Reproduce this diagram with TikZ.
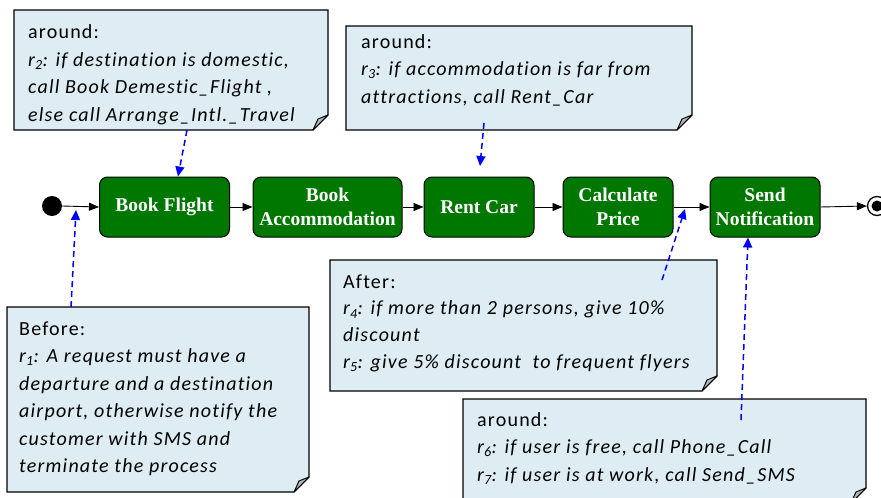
\documentclass[tikz,border=0pt]{standalone}
\usepackage{fontspec}
\setmainfont{Carlito}
\newfontfamily\actfont{Liberation Serif}
\newfontfamily\notefont[LetterSpace=6, Ligatures=NoCommon]{Carlito}
\usetikzlibrary{arrows.meta}

\definecolor{actgreen}{RGB}{0,119,0}
\definecolor{notefill}{RGB}{221,237,243}
\definecolor{foldgray}{RGB}{176,184,188}
\definecolor{linkblue}{RGB}{0,0,255}

% note with a folded bottom-right corner, drawn around an (empty) node
\newcommand\foldnote[1]{%
  \filldraw[fill=notefill, draw=black, line width=1.3pt, line join=miter]
    (#1.north west) -- (#1.north east) -- ([yshift=15pt]#1.south east)
    -- ([xshift=-15pt]#1.south east) -- (#1.south west) -- cycle;
  \filldraw[fill=foldgray, draw=black, line width=1pt, line join=round]
    ([yshift=15pt]#1.south east) -- ([xshift=-10pt,yshift=11pt]#1.south east)
    -- ([xshift=-15pt]#1.south east) -- cycle;
}

\tikzset{
  activity/.style={rectangle, rounded corners=8pt, draw=black, line width=1pt,
    fill=actgreen, text=white, align=center, minimum height=60pt, inner sep=2pt,
    font=\actfont\bfseries\fontsize{19.5}{24}\selectfont},
  flow/.style={-{Triangle[length=10pt,width=8pt]}, line width=0.9pt},
  rulelink/.style={linkblue, line width=1.5pt, dash pattern=on 6pt off 4pt,
    -{Triangle[length=10pt,width=9pt]}},
  notebox/.style={rectangle, inner sep=0pt, outer sep=0pt},
  notetext/.style={anchor=north west, inner sep=0pt, align=left,
    font=\notefont\fontsize{20}{27.5}\selectfont},
}

\begin{document}
\begin{tikzpicture}[x=1pt,y=-1pt]
\clip (0,0) rectangle (881,498);

% rule notes
\node[notebox, minimum width=314pt, minimum height=120pt] (n1) at (171,70) {};
\node[notebox, minimum width=346pt, minimum height=104pt] (n2) at (519,78) {};
\node[notebox, minimum width=302pt, minimum height=185pt] (n3) at (158,399.5) {};
\node[notebox, minimum width=387pt, minimum height=131pt] (n4) at (523.5,325.5) {};
\node[notebox, minimum width=403pt, minimum height=104pt] (n5) at (664.5,451) {};
\foldnote{n1}
\foldnote{n2}
\foldnote{n3}
\foldnote{n4}
\foldnote{n5}

\node[notetext] (t1) at (28,18.5) {\rule{0pt}{20pt}around:\\
  \textit{r\textsubscript{2}: if destination is domestic,}\\
  \textit{call Book Demestic\_Flight ,}\\
  \textit{else call Arrange\_Intl.\_Travel}};
\node[notetext] (t2) at (361,28) {\rule{0pt}{20pt}around:\\
  \textit{r\textsubscript{3}: if accommodation is far from}\\
  \textit{attractions, call Rent\_Car}};
\node[notetext] (t3) at (19,315) {\rule{0pt}{20pt}Before:\\
  \textit{r\textsubscript{1}: A request must have a}\\
  \textit{departure and a destination}\\
  \textit{airport, otherwise notify the}\\
  \textit{customer with SMS and}\\
  \textit{terminate the process}};
\node[notetext, font=\notefont\fontsize{20}{26.7}\selectfont] (t4) at (343,268) {\rule{0pt}{20pt}After:\\
  \textit{r\textsubscript{4}: if more than 2 persons, give 10\%}\\
  \textit{discount}\\
  \textit{r\textsubscript{5}: give 5\% discount \ to frequent flyers}};
\node[notetext] (t5) at (477,406) {\rule{0pt}{20pt}around:\\
  \textit{r\textsubscript{6}: if user is free, call Phone\_Call}\\
  \textit{r\textsubscript{7}: if user is at work, call Send\_SMS}};

% process
\node[circle, fill=black, minimum size=20pt, inner sep=0pt] (start) at (52,206) {};
\node[activity, minimum width=130pt] (bf) at (164.5,207) {Book Flight};
\node[activity, minimum width=149pt] (ba) at (327.5,207) {Book\\Accommodation};
\node[activity, minimum width=110pt] (rc) at (479,207) {Rent Car};
\node[activity, minimum width=110pt] (cp) at (618,207) {Calculate\\Price};
\node[activity, minimum width=110pt] (sn) at (765,207) {Send\\Notification};
\node[circle, draw=black, line width=1.3pt, fill=white, minimum size=19pt, inner sep=0pt] (end) at (877,206) {};
\node[circle, fill=black, minimum size=11pt, inner sep=0pt] (enddot) at (end.center) {};

\draw[flow] (start.east) -- (bf.west);
\draw[flow] (bf) -- (ba);
\draw[flow] (ba) -- (rc);
\draw[flow] (rc) -- (cp);
\draw[flow] (cp) -- (sn);
\draw[flow] (sn.east) -- (end.west);

% links from the rules to the process
\coordinate (r1tip) at (76,210);
\coordinate (r3tip) at (480,166);
\coordinate (r45tip) at (685,209);
\draw[rulelink] ([xshift=-87pt]n3.north) -- (r1tip);
\draw[rulelink] ([xshift=16pt]n1.south) -- ([xshift=13.5pt]bf.north);
\draw[rulelink] ([xshift=-35pt,yshift=7pt]n2.south) -- (r3tip);
\draw[rulelink] ([xshift=138.5pt,yshift=-20pt]n4.north) -- (r45tip);
\draw[rulelink] ([xshift=76.5pt,yshift=-21pt]n5.north) -- ([xshift=-17pt]sn.south);
\end{tikzpicture}
\end{document}
